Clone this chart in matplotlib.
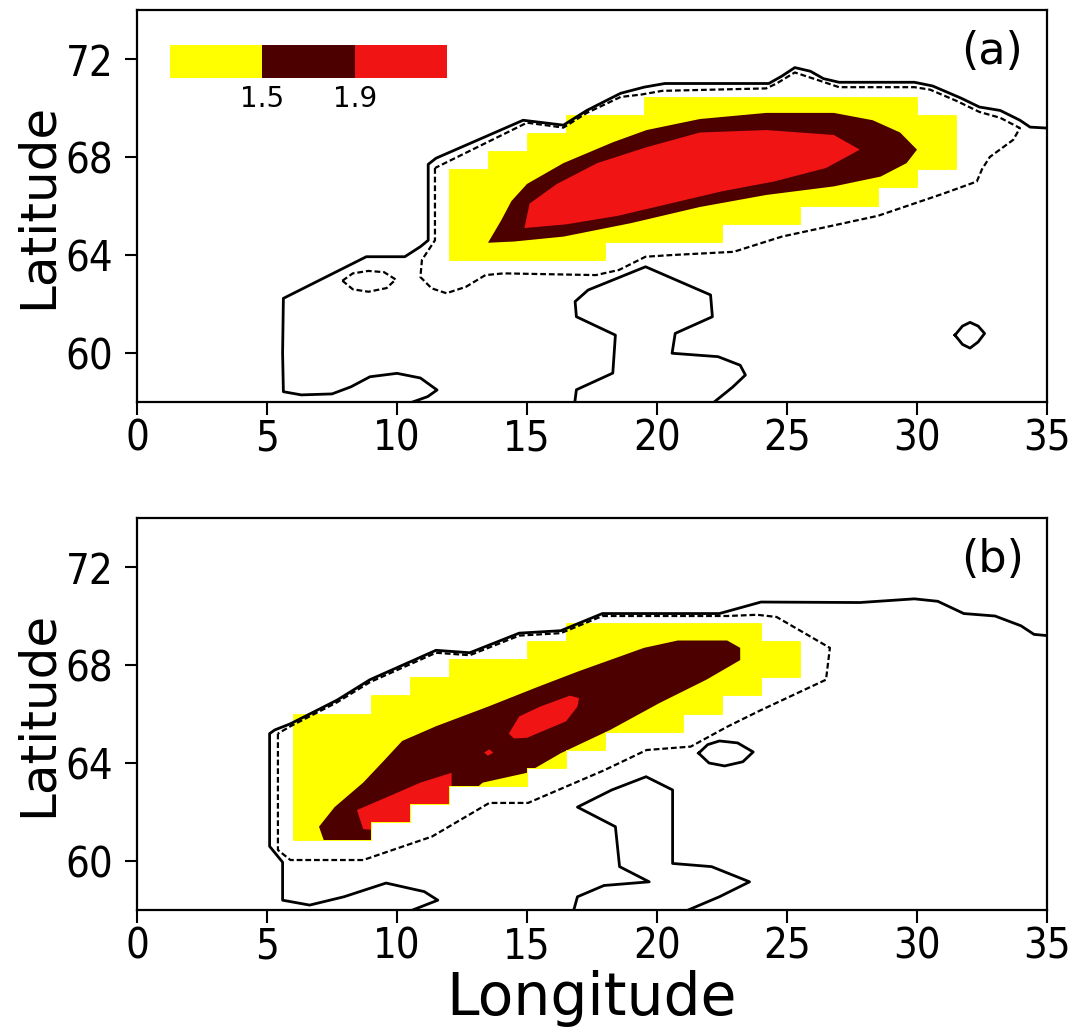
import matplotlib
matplotlib.use('Agg')
import matplotlib.pyplot as plt
from matplotlib.path import Path
from matplotlib.colors import ListedColormap

# ---------------- data (lon / lat) ----------------
CELL_DLAT = 0.74
YELLOW, DARK, RED = '#ffff00', '#4d0000', '#f01414'

# panel (a): grid cells of the shaded (significant) area, one row per latitude band
yellow_a_south = [63.80, 64.54, 65.28, 66.02, 66.76, 67.50, 68.24, 68.98, 69.72]
yellow_a_west = [12.0, 12.0, 12.0, 12.0, 12.0, 13.5, 15.0, 16.5, 19.5]
yellow_a_east = [18.0, 22.5, 25.5, 28.5, 30.0, 31.5, 31.5, 31.5, 30.0]

dark_a_lon = [13.5, 14.5, 16.4, 19.0, 21.65, 24.2, 26.8, 28.6, 29.6, 30.0, 29.35, 28.3,
              26.8, 24.2, 21.65, 19.6, 18.3, 16.4, 15.0, 14.4, 14.0]
dark_a_lat = [64.5, 64.55, 64.75, 65.3, 65.96, 66.45, 66.8, 67.2, 67.75, 68.3, 69.0, 69.5,
              69.8, 69.8, 69.55, 69.1, 68.6, 67.75, 66.9, 66.2, 65.4]
red_a_lon = [14.9, 16.5, 18.5, 20.5, 22.5, 24.5, 26.5, 27.8, 26.8, 24.2, 21.65, 19.6,
             17.7, 16.15, 15.1]
red_a_lat = [65.1, 65.25, 65.6, 66.1, 66.6, 67.0, 67.55, 68.3, 68.9, 69.1, 69.0, 68.4,
             67.75, 66.9, 66.1]

coast_a_lon = [10.6, 11.18, 11.54, 10.9, 10.0, 8.96, 8.23, 7.5, 6.32, 5.63, 5.6, 5.63,
               8.82, 10.3, 10.9, 11.2, 11.2, 11.5, 14.85, 16.4, 17.3, 18.6, 19.5, 20.3,
               24.3, 24.8, 25.3, 25.9, 26.4, 27.0, 29.9, 30.6, 31.7, 32.4, 33.2, 33.96,
               34.35, 35.0]
coast_a_lat = [58.0, 58.22, 58.49, 58.98, 59.17, 59.03, 58.62, 58.33, 58.29, 58.42, 60.0,
               62.23, 63.93, 63.93, 64.34, 64.6, 67.7, 67.95, 69.5, 69.3, 69.9, 70.6, 70.85,
               71.0, 71.0, 71.3, 71.65, 71.5, 71.2, 71.05, 71.05, 70.9, 70.4, 70.04, 69.9,
               69.5, 69.22, 69.18]
dash_a_lon = [11.46, 11.46, 10.96, 10.9, 11.33, 11.9, 12.65, 13.4, 14.1, 17.65, 18.54,
              19.56, 20.6, 22.95, 24.8, 28.5, 31.0, 32.3, 32.5, 32.8, 33.7, 33.96, 33.2,
              32.4, 31.5, 30.5, 29.9, 27.0, 26.3, 25.3, 24.6, 24.2, 20.2, 19.4, 18.6, 17.3,
              16.4, 15.0, 11.46]
dash_a_lat = [67.55, 64.6, 63.8, 63.1, 62.64, 62.44, 62.7, 63.18, 63.25, 63.18, 63.39,
              63.93, 64.0, 64.13, 64.75, 65.6, 66.5, 67.0, 67.5, 68.0, 68.7, 69.18, 69.6,
              69.84, 70.3, 70.75, 70.85, 70.85, 71.1, 71.45, 71.0, 70.8, 70.7, 70.55, 70.45,
              69.8, 69.2, 69.4, 67.55]
lake_a_lon = [7.9, 8.3, 8.9, 9.5, 9.95, 9.6, 8.9, 8.3, 7.9]
lake_a_lat = [62.95, 63.25, 63.35, 63.3, 63.0, 62.65, 62.5, 62.6, 62.95]
baltic_a_lon = [16.84, 16.9, 18.3, 18.4, 16.9, 16.85, 17.35, 19.56, 22.06, 22.13, 20.7,
                20.58, 22.35, 23.2, 23.4, 22.9, 22.2]
baltic_a_lat = [58.0, 58.5, 59.18, 60.73, 61.48, 62.1, 62.57, 63.52, 62.37, 61.48, 60.8,
                59.99, 59.85, 59.5, 59.1, 58.6, 58.0]
ladoga_a_lon = [31.46, 31.75, 32.04, 32.35, 32.6, 32.35, 32.04, 31.75, 31.46]
ladoga_a_lat = [60.73, 61.1, 61.25, 61.1, 60.8, 60.45, 60.2, 60.35, 60.73]

# panel (b)
yellow_b_south = [60.84, 61.58, 62.32, 63.06, 63.80, 64.54, 65.28, 66.02, 66.76, 67.50,
                  68.24, 68.98]
yellow_b_west = [6.0, 6.0, 6.0, 6.0, 6.0, 6.0, 6.0, 9.0, 10.5, 12.0, 15.0, 16.5]
yellow_b_east = [9.0, 10.5, 12.0, 15.0, 16.5, 18.0, 21.0, 22.5, 24.0, 25.5, 25.5, 24.0]

dark_b_lon = [7.0, 7.6, 8.7, 9.5, 10.2, 11.5, 13.5, 15.4, 17.0, 19.5, 20.8, 22.7, 23.2,
              23.2, 21.9, 20.1, 18.2, 16.3, 15.0, 13.3, 12.4, 11.0, 9.0, 7.3]
dark_b_lat = [61.4, 62.2, 63.2, 64.1, 64.9, 65.5, 66.3, 67.1, 67.75, 68.7, 69.0, 69.0, 68.7,
              68.2, 67.4, 66.45, 65.35, 64.4, 63.6, 63.2, 62.4, 61.2, 60.5, 60.5]
red_b1_lon = [14.3, 14.7, 15.5, 16.65, 17.0, 16.94, 16.5, 15.0, 14.5]
red_b1_lat = [65.2, 65.9, 66.3, 66.75, 66.65, 66.3, 65.7, 65.03, 65.0]
red_b2_lon = [8.46, 8.7, 10.0, 12.1, 12.1, 10.9, 9.6]
red_b2_lat = [62.08, 61.3, 61.2, 61.8, 63.6, 63.2, 62.6]
red_b3_lon = [13.35, 13.55, 13.7, 13.5]
red_b3_lat = [64.42, 64.56, 64.42, 64.3]

coast_b_lon = [10.6, 11.57, 11.05, 9.58, 7.96, 6.64, 5.6, 5.6, 5.1, 5.1, 5.3, 5.9, 7.7,
               8.96, 11.5, 12.8, 14.7, 16.3, 17.9, 22.4, 24.0, 27.8, 29.9, 30.8, 31.8,
               33.0, 34.0, 34.5, 35.0]
coast_b_lat = [58.0, 58.4, 58.75, 59.1, 58.54, 58.2, 58.4, 59.95, 60.6, 65.2, 65.35, 65.6,
               66.57, 67.4, 68.6, 68.5, 69.3, 69.4, 70.1, 70.1, 70.57, 70.55, 70.7, 70.6,
               70.1, 70.0, 69.6, 69.25, 69.2]
dash_b_lon = [5.42, 5.42, 5.9, 8.7, 11.35, 13.55, 15.04, 17.96, 19.6, 21.3, 22.7, 24.0,
              26.5, 26.65, 24.6, 23.85, 22.7, 17.9, 16.3, 14.7, 12.8, 11.5, 8.96, 7.7, 5.9,
              5.42]
dash_b_lat = [65.2, 60.45, 60.04, 60.04, 61.0, 62.37, 62.37, 63.7, 64.53, 64.67, 65.48,
              66.16, 67.4, 68.7, 69.96, 70.05, 70.0, 70.0, 69.3, 69.2, 68.4, 68.5, 67.3,
              66.48, 65.5, 65.2]
baltic_b_lon = [16.8, 16.94, 17.96, 19.7, 18.56, 18.4, 16.94, 18.26, 19.58, 20.6, 20.6,
                22.1, 23.56, 22.4, 21.2]
baltic_b_lat = [58.0, 58.54, 59.0, 59.15, 59.77, 61.4, 62.2, 62.9, 63.44, 62.9, 59.9,
                59.77, 59.15, 58.54, 58.0]
lake_b_lon = [21.6, 21.95, 22.4, 23.1, 23.7, 23.3, 22.6, 22.0, 21.6]
lake_b_lat = [64.4, 64.75, 64.9, 64.82, 64.45, 64.05, 63.88, 64.0, 64.4]

lon_ticks = [0, 5, 10, 15, 20, 25, 30, 35]
lat_ticks = [60, 64, 68, 72]
legend_labels = ['1.5', '1.9']

NARROW = ['Liberation Sans Narrow', 'DejaVu Sans']
SOLID = dict(color='black', lw=2.0, solid_joinstyle='round', zorder=5)
DASHED = dict(color='black', lw=1.6, linestyle=(0, (2.6, 1.3)), zorder=5)


def cell_mask(south, west, east):
    rects = []
    for s, w, e in zip(south, west, east):
        rects.append(Path([(w, s), (e, s), (e, s + CELL_DLAT), (w, s + CELL_DLAT), (w, s)],
                          closed=True))
    return Path.make_compound_path(*rects)


def panel(ax, south, west, east, fills, solids, dashes, tag):
    widths = [e - w for w, e in zip(west, east)]
    ax.bar(west, [CELL_DLAT] * len(west), width=widths, bottom=south, align='edge',
           color=YELLOW, edgecolor=YELLOW, linewidth=0.6, zorder=1)
    clip = cell_mask(south, west, east)
    for lon, lat, col, z in fills:
        for p in ax.fill(lon, lat, color=col, lw=0, zorder=z):
            p.set_clip_path(clip, ax.transData)
    for lon, lat in solids:
        ax.plot(lon, lat, **SOLID)
    for lon, lat in dashes:
        ax.plot(lon, lat, **DASHED)

    ax.set_xlim(0, 35)
    ax.set_ylim(58, 74)
    ax.set_xticks(lon_ticks)
    ax.set_yticks(lat_ticks)
    ax.tick_params(direction='out', length=9, width=1.5)
    ax.tick_params(axis='y', pad=8)
    ax.tick_params(axis='x', pad=2)
    for lab in ax.get_xticklabels() + ax.get_yticklabels():
        lab.set_family(NARROW)
        lab.set_fontstretch('condensed')
        lab.set_fontsize(30)
    for sp in ax.spines.values():
        sp.set_linewidth(1.6)
    ax.set_ylabel('Latitude', fontsize=36, family='DejaVu Sans')
    ax.yaxis.set_label_coords(-0.0824, 0.5)
    ax.text(0.94, 0.893, tag, transform=ax.transAxes, fontsize=32,
            ha='center', va='center', family='DejaVu Sans')


fig = plt.figure(figsize=(10.74, 10.32), dpi=100)
ax_a = fig.add_axes([137 / 1074, 1 - 402 / 1032, 910 / 1074, 392 / 1032])
ax_b = fig.add_axes([137 / 1074, 1 - 910 / 1032, 910 / 1074, 392 / 1032])

panel(ax_a, yellow_a_south, yellow_a_west, yellow_a_east,
      [(dark_a_lon, dark_a_lat, DARK, 2), (red_a_lon, red_a_lat, RED, 3)],
      [(coast_a_lon, coast_a_lat), (baltic_a_lon, baltic_a_lat),
       (ladoga_a_lon, ladoga_a_lat)],
      [(dash_a_lon, dash_a_lat), (lake_a_lon, lake_a_lat)], '(a)')

panel(ax_b, yellow_b_south, yellow_b_west, yellow_b_east,
      [(dark_b_lon, dark_b_lat, DARK, 2), (red_b1_lon, red_b1_lat, RED, 3),
       (red_b2_lon, red_b2_lat, RED, 3), (red_b3_lon, red_b3_lat, RED, 3)],
      [(coast_b_lon, coast_b_lat), (baltic_b_lon, baltic_b_lat),
       (lake_b_lon, lake_b_lat)],
      [(dash_b_lon, dash_b_lat)], '(b)')
ax_b.set_xlabel('Longitude', fontsize=42, family='DejaVu Sans', labelpad=2)

# colour key in panel (a)
cax = ax_a.inset_axes([0.0363, 0.8265, 0.3044, 0.0842])
cax.pcolormesh([0, 1, 2, 3], [0, 1], [[0, 1, 2]],
               cmap=ListedColormap([YELLOW, DARK, RED]), vmin=0, vmax=2)
cax.set_xticks([1, 2])
cax.set_xticklabels(legend_labels, fontsize=20, family='DejaVu Sans')
cax.set_yticks([])
cax.tick_params(length=0, pad=5)
for sp in cax.spines.values():
    sp.set_visible(False)

fig.savefig('out.png', dpi=100)
